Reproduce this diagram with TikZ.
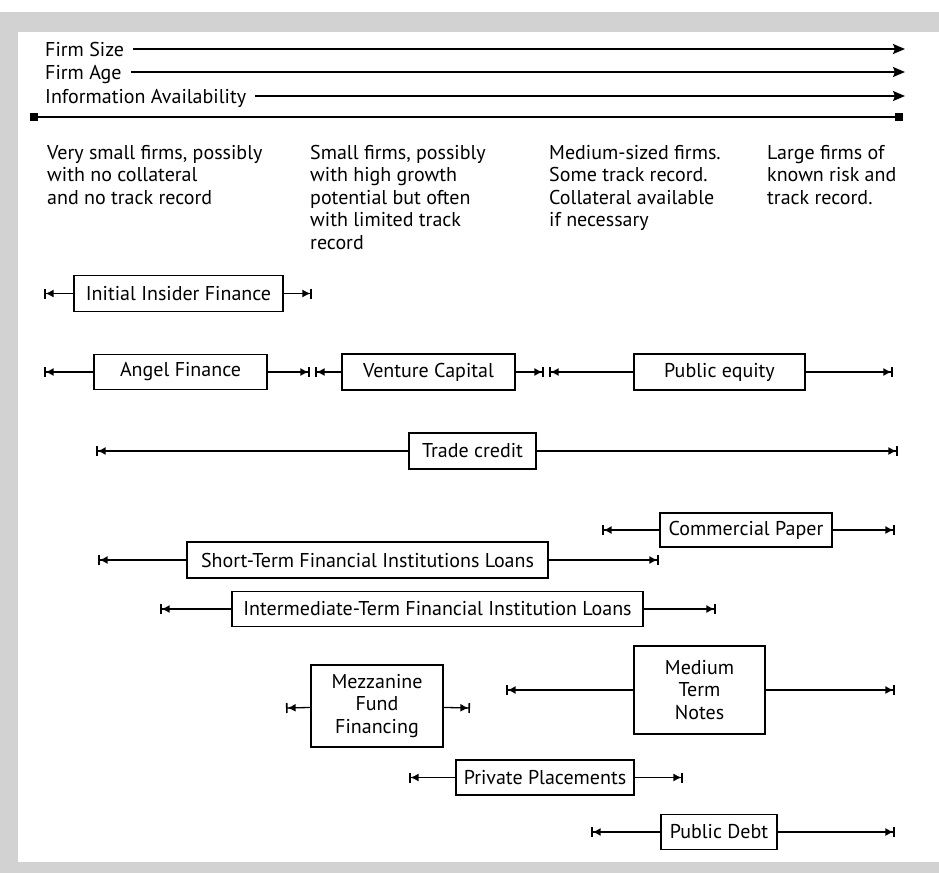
\documentclass[tikz,border=0pt]{standalone}
\usepackage{fontspec}
\setmainfont{PT Sans}
\usetikzlibrary{arrows.meta}

\begin{document}
\begin{tikzpicture}[x=1pt, y=-1pt, font=\fontsize{20}{22.5}\selectfont,
    box/.style={draw, line width=1.3pt, inner sep=0pt, align=center},
    span/.style={line width=1.3pt, -{Latex[length=8pt,width=8pt]Bar[width=10pt,line width=1.6pt]}},
    trend/.style={line width=1.4pt, shorten <=9pt, -{Stealth[length=12pt,width=10pt,inset=2pt]}},
    axislabel/.style={anchor=west, inner sep=0pt, text height=14pt, text depth=0pt},
    blurb/.style={anchor=north west, align=left, inner sep=0pt}]
    \useasboundingbox (0,0) rectangle (939,873);
    \fill[gray!35] (0,12) rectangle (939,873);
    \fill[white] (18,32) rectangle (939,862);

    \node[axislabel] (size) at (45,49) {Firm Size};
    \node[axislabel] (age) at (45,72) {Firm Age};
    \node[axislabel] (info) at (45,96) {Information Availability};
    \coordinate (size-end) at (905,49);
    \coordinate (age-end) at (905,72);
    \coordinate (info-end) at (905,96);
    \path[trend] (size) edge (size-end);
    \path[trend] (age) edge (age-end);
    \path[trend] (info) edge (info-end);
    \coordinate (track-l) at (30,117);
    \coordinate (track-r) at (903,117);
    \path[line width=1.4pt, {Square[length=8pt]}-{Square[length=8pt]}] (track-l) edge (track-r);

    \node[blurb] (tiny) at (47,145) {Very small firms, possibly\\with no collateral\\and no track record};
    \node[blurb] (small) at (310,145) {Small firms, possibly\\with high growth\\potential but often\\with limited track\\record};
    \node[blurb] (medium) at (549,145) {Medium-sized firms.\\Some track record.\\Collateral available\\if necessary};
    \node[blurb] (large) at (767,145) {Large firms of\\known risk and\\track record.};

    \node[box, minimum width=209pt, minimum height=36pt] (insider) at (178.5,293.5) {Initial Insider Finance};
    \node[box, minimum width=173pt, minimum height=35pt] (angel) at (180.5,372) {Angel Finance};
    \node[box, minimum width=173pt, minimum height=36pt] (venture) at (428.5,372) {Venture Capital};
    \node[box, minimum width=171pt, minimum height=36pt] (equity) at (719.5,372) {Public equity};
    \node[box, minimum width=127pt, minimum height=36pt] (trade) at (472.5,451) {Trade credit};
    \node[box, minimum width=172pt, minimum height=34pt] (paper) at (746,530) {Commercial Paper};
    \node[box, minimum width=361pt, minimum height=36pt] (short) at (367.5,560) {Short-Term Financial Institutions Loans};
    \node[box, minimum width=411pt, minimum height=35pt] (inter) at (437.5,609) {Intermediate-Term Financial Institution Loans};
    \node[box, minimum width=132pt, minimum height=82pt] (mezz) at (377,706) {Mezzanine\\Fund\\Financing};
    \node[box, minimum width=131pt, minimum height=88pt] (notes) at (699.5,690) {Medium\\Term\\Notes};
    \node[box, minimum width=178pt, minimum height=35pt] (private) at (545,777.5) {Private Placements};
    \node[box, minimum width=116pt, minimum height=35pt] (debt) at (719,832) {Public Debt};

    \coordinate (insider-l) at (44,293.5);
    \coordinate (insider-r) at (312,293.5);
    \coordinate (angel-l) at (44,372);
    \coordinate (angel-r) at (310,372);
    \coordinate (venture-l) at (315,372);
    \coordinate (venture-r) at (544,372);
    \coordinate (equity-l) at (549,372);
    \coordinate (equity-r) at (893,372);
    \coordinate (trade-l) at (96,451);
    \coordinate (trade-r) at (898,451);
    \coordinate (paper-l) at (602,530);
    \coordinate (paper-r) at (895,530);
    \coordinate (short-l) at (98,560);
    \coordinate (short-r) at (659,560);
    \coordinate (inter-l) at (160,609);
    \coordinate (inter-r) at (716,609);
    \coordinate (mezz-l) at (286,708);
    \coordinate (mezz-r) at (470,708);
    \coordinate (notes-l) at (506,690);
    \coordinate (notes-r) at (895,690);
    \coordinate (private-l) at (409,777.5);
    \coordinate (private-r) at (683,777.5);
    \coordinate (debt-l) at (591,832);
    \coordinate (debt-r) at (895,832);

    \path[span] (insider) edge (insider-l) (insider) edge (insider-r);
    \path[span] (angel) edge (angel-l) (angel) edge (angel-r);
    \path[span] (venture) edge (venture-l) (venture) edge (venture-r);
    \path[span] (equity) edge (equity-l) (equity) edge (equity-r);
    \path[span] (trade) edge (trade-l) (trade) edge (trade-r);
    \path[span] (paper) edge (paper-l) (paper) edge (paper-r);
    \path[span] (short) edge (short-l) (short) edge (short-r);
    \path[span] (inter) edge (inter-l) (inter) edge (inter-r);
    \path[span] (mezz) edge (mezz-l) (mezz) edge (mezz-r);
    \path[span] (notes) edge (notes-l) (notes) edge (notes-r);
    \path[span] (private) edge (private-l) (private) edge (private-r);
    \path[span] (debt) edge (debt-l) (debt) edge (debt-r);
\end{tikzpicture}
\end{document}
